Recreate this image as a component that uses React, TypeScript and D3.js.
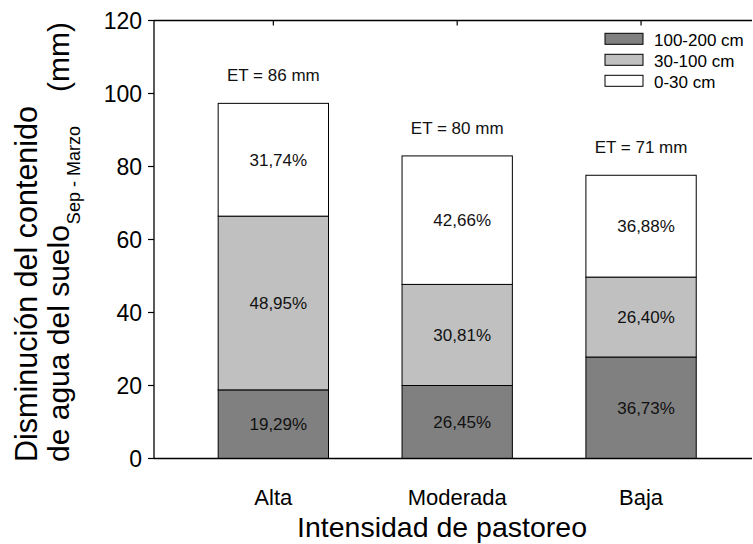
import React from "react";
import * as d3 from "d3";

const categories = ["Alta", "Moderada", "Baja"];
const layers = ["100-200 cm", "30-100 cm", "0-30 cm"];
const deep = [18.8, 20.0, 27.8];
const mid = [47.6, 27.7, 21.9];
const shallow = [30.9, 35.2, 27.9];
const pctDeep = ["19,29%", "26,45%", "36,73%"];
const pctMid = ["48,95%", "30,81%", "26,40%"];
const pctShallow = ["31,74%", "42,66%", "36,88%"];
const etLabels = ["ET = 86 mm", "ET = 80 mm", "ET = 71 mm"];
const yTicks = [0, 20, 40, 60, 80, 100, 120];

const colors = ["#808080", "#c0c0c0", "#ffffff"];
const FONT = "Liberation Sans, Arial, sans-serif";

export default function App() {
  const W = 753, H = 544;
  const left = 154, right = 752, top = 20.5, bottom = 458.5;
  const y = d3.scaleLinear().domain([0, 120]).range([bottom, top]);
  const x = d3.scaleBand().domain(categories).range([181.4, 733]).paddingInner(0.4).paddingOuter(0.2);

  const rows = categories.map((c, i) => ({ cat: c, deep: deep[i], mid: mid[i], shallow: shallow[i] }));
  const stack = d3.stack<any>().keys(["deep", "mid", "shallow"])(rows);
  const pcts = [pctDeep, pctMid, pctShallow];

  return (
    <svg width={W} height={H} style={{ position: "absolute", left: 0, top: 0, background: "#fff" }} fontFamily={FONT}>
      {stack.map((series, si) =>
        series.map((d, i) => (
          <rect key={`${si}-${i}`} x={x(categories[i])!} y={y(d[1])} width={x.bandwidth()} height={y(d[0]) - y(d[1])}
            fill={colors[si]} stroke="#000" strokeWidth={1} />
        ))
      )}
      {stack.map((series, si) =>
        series.map((d, i) => (
          <text key={`p${si}-${i}`} x={x(categories[i])! + x.bandwidth() / 2 + 5} y={y((d[0] + d[1]) / 2) + 6}
            textAnchor="middle" fontSize={17} fill="#111">{pcts[si][i]}</text>
        ))
      )}
      {categories.map((c, i) => {
        const total = stack[2][i][1];
        return (
          <text key={`et${i}`} x={x(c)! + x.bandwidth() / 2} y={y(total) - 22} textAnchor="middle" fontSize={17} fill="#111">{etLabels[i]}</text>
        );
      })}
      {/* axes */}
      <line x1={left} x2={left} y1={top} y2={bottom} stroke="#000" strokeWidth={1.3} />
      <line x1={left} x2={right} y1={bottom} y2={bottom} stroke="#000" strokeWidth={1.5} />
      <line x1={left} x2={right} y1={top} y2={top} stroke="#000" strokeWidth={1.3} />
      {categories.map((c) => (
        <line key={`tt${c}`} x1={x(c)! + x.bandwidth() / 2} x2={x(c)! + x.bandwidth() / 2} y1={top} y2={top + 5} stroke="#000" strokeWidth={1.2} />
      ))}
      {yTicks.map((t) => (
        <g key={`yt${t}`}>
          <line x1={left - 6} x2={left} y1={y(t)} y2={y(t)} stroke="#000" strokeWidth={1.2} />
          <text x={left - 12} y={y(t) + 8} textAnchor="end" fontSize={23} fill="#000">{t}</text>
        </g>
      ))}
      {categories.map((c) => (
        <text key={`xl${c}`} x={x(c)! + x.bandwidth() / 2} y={505} textAnchor="middle" fontSize={22} fill="#000">{c}</text>
      ))}
      <text x={442} y={537} textAnchor="middle" fontSize={28.5} fill="#000">Intensidad de pastoreo</text>
      <g transform="translate(36.5,462) rotate(-90)">
        <text x={0} y={0} fontSize={30.5} fill="#000">Disminución del contenido</text>
      </g>
      <g transform="translate(68.5,462) rotate(-90)">
        <text x={0} y={0} fontSize={30} fill="#000">
          de agua del suelo<tspan fontSize={18} dx={1} dy={11}>Sep - Marzo</tspan><tspan x={370} dy={-11}>(mm)</tspan>
        </text>
      </g>
      {/* legend */}
      {layers.map((l, i) => (
        <g key={`lg${i}`} transform={`translate(605,${33.3 + i * 21})`}>
          <rect x={0} y={0} width={38} height={11} fill={colors[i]} stroke="#000" strokeWidth={1} />
          <text x={49} y={12.5} fontSize={17} fill="#000">{l}</text>
        </g>
      ))}
    </svg>
  );
}
